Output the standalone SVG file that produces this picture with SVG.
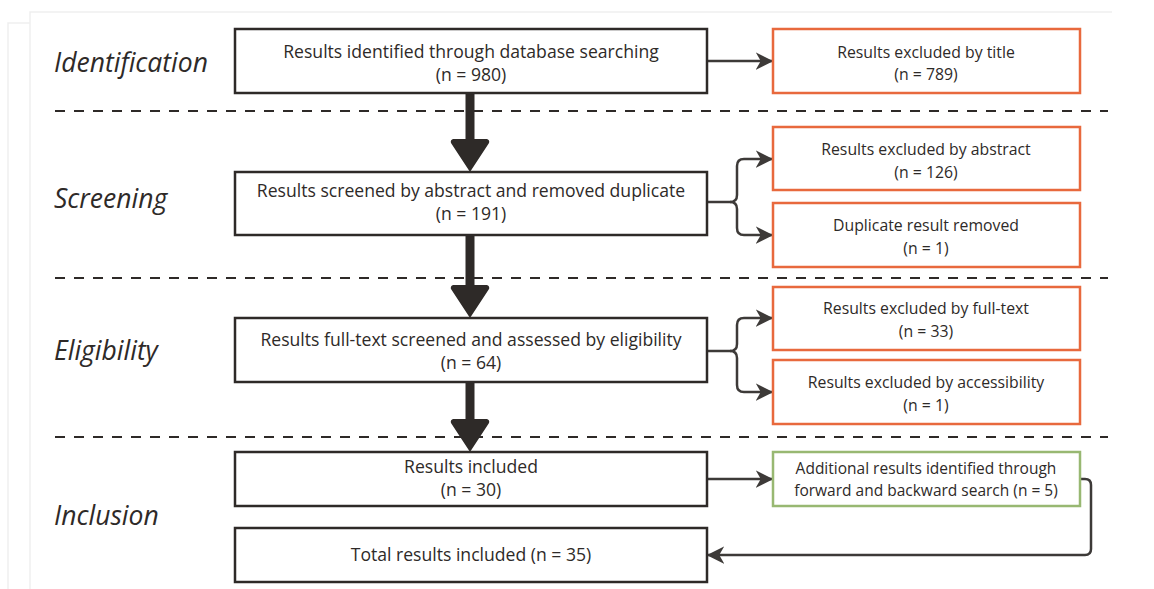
<svg xmlns="http://www.w3.org/2000/svg" width="1154" height="589" viewBox="0 0 1154 589">
<defs>
<style>
.bg{fill:#ffffff}
.frame{stroke:#efefef;stroke-width:1.5;fill:none}
.box{fill:#ffffff;stroke:#2e2a28;stroke-width:2.5}
.ex{fill:#ffffff;stroke:#e8693d;stroke-width:2.5}
.add{fill:#ffffff;stroke:#98b872;stroke-width:2.5}
.dash{stroke:#2e2a28;stroke-width:2;stroke-dasharray:10,9;fill:none}
.conn{stroke:#3d3a38;stroke-width:2.5;fill:none}
.big{fill:#2e2a28}
.t{font-family:"Open Sans","Liberation Sans",sans-serif;fill:#2e2a28;text-anchor:middle}
.m{font-size:17.6px}
.s{font-size:15.8px}
.g{font-size:15.5px}
.lab{font-family:"Open Sans","Liberation Sans",sans-serif;font-style:italic;font-size:26.5px;fill:#2e2a28}
</style>
<marker id="ah2" viewBox="0 0 14 14" refX="13" refY="7" markerWidth="7" markerHeight="7" orient="auto">
<path d="M0,0 L14,7 L0,14 L4,7 Z" fill="#3d3a38"/>
</marker>
</defs>
<rect class="bg" x="0" y="0" width="1154" height="589"/>
<path class="frame" d="M30,589 L30,12 L1112,12"/>
<path class="frame" d="M8,589 L8,23 L30,23"/>

<g id="phases">
<text class="lab" x="54" y="72">Identification</text>
<text class="lab" x="54" y="208">Screening</text>
<text class="lab" x="54" y="360">Eligibility</text>
<text class="lab" x="54" y="525">Inclusion</text>
<line class="dash" x1="55" y1="111" x2="1108" y2="111"/>
<line class="dash" x1="55" y1="278" x2="1108" y2="278"/>
<line class="dash" x1="55" y1="437" x2="1108" y2="437"/>
</g>

<g id="connectors">
<path class="big" d="M465.5,93 L474.5,93 L474.5,139 L487,139 Q490,140 489,143 L470,172 L451,143 Q450,140 453,139 L465.5,139 Z"/>
<path class="big" d="M465.5,235 L474.5,235 L474.5,285 L487,285 Q490,286 489,289 L470,318 L451,289 Q450,286 453,285 L465.5,285 Z"/>
<path class="big" d="M465.5,382 L474.5,382 L474.5,419 L487,419 Q490,420 489,423 L470,452 L451,423 Q450,420 453,419 L465.5,419 Z"/>
<path class="conn" marker-end="url(#ah2)" d="M707,61 L772,61"/>
<path class="conn" marker-end="url(#ah2)" d="M707,202 L730,202 Q737,202 737,195 L737,166 Q737,159 744,159 L772,159"/>
<path class="conn" marker-end="url(#ah2)" d="M730,202 Q737,202 737,209 L737,228 Q737,235 744,235 L772,235"/>
<path class="conn" marker-end="url(#ah2)" d="M707,351 L730,351 Q737,351 737,344 L737,325 Q737,318 744,318 L772,318"/>
<path class="conn" marker-end="url(#ah2)" d="M730,351 Q737,351 737,358 L737,385 Q737,392 744,392 L772,392"/>
<path class="conn" marker-end="url(#ah2)" d="M707,479 L772,479"/>
<path class="conn" marker-end="url(#ah2)" d="M1080,479 L1085,479 Q1091,479 1091,485 L1091,549 Q1091,555 1085,555 L708,555"/>
</g>

<g id="n-identified">
<rect class="box" x="235" y="29" width="472" height="64"/>
<text class="t m" x="471" y="58">Results identified through database searching</text>
<text class="t m" x="471" y="81">(n = 980)</text>
</g>
<g id="n-ex-title">
<rect class="ex" x="773" y="29" width="307" height="64"/>
<text class="t s" x="926" y="58">Results excluded by title</text>
<text class="t s" x="926" y="80">(n = 789)</text>
</g>
<g id="n-screened">
<rect class="box" x="235" y="172" width="472" height="63"/>
<text class="t m" x="471" y="197">Results screened by abstract and removed duplicate</text>
<text class="t m" x="471" y="220">(n = 191)</text>
</g>
<g id="n-ex-abstract">
<rect class="ex" x="773" y="127" width="307" height="63"/>
<text class="t s" x="926" y="155">Results excluded by abstract</text>
<text class="t s" x="926" y="178">(n = 126)</text>
</g>
<g id="n-duplicate">
<rect class="ex" x="773" y="203" width="307" height="64"/>
<text class="t s" x="926" y="231">Duplicate result removed</text>
<text class="t s" x="926" y="254">(n = 1)</text>
</g>
<g id="n-eligibility">
<rect class="box" x="235" y="318" width="472" height="64"/>
<text class="t m" x="471" y="346">Results full-text screened and assessed by eligibility</text>
<text class="t m" x="471" y="369">(n = 64)</text>
</g>
<g id="n-ex-fulltext">
<rect class="ex" x="773" y="287" width="307" height="63"/>
<text class="t s" x="926" y="314">Results excluded by full-text</text>
<text class="t s" x="926" y="337">(n = 33)</text>
</g>
<g id="n-ex-access">
<rect class="ex" x="773" y="360" width="307" height="64"/>
<text class="t s" x="926" y="388">Results excluded by accessibility</text>
<text class="t s" x="926" y="411">(n = 1)</text>
</g>
<g id="n-included">
<rect class="box" x="235" y="452" width="472" height="54"/>
<text class="t m" x="471" y="473">Results included</text>
<text class="t m" x="471" y="496">(n = 30)</text>
</g>
<g id="n-additional">
<rect class="add" x="773" y="452" width="307" height="54"/>
<text class="t g" x="926" y="474">Additional results identified through</text>
<text class="t g" x="926" y="496">forward and backward search (n = 5)</text>
</g>
<g id="n-total">
<rect class="box" x="235" y="528" width="472" height="54"/>
<text class="t m" x="471" y="561">Total results included (n = 35)</text>
</g>
</svg>
